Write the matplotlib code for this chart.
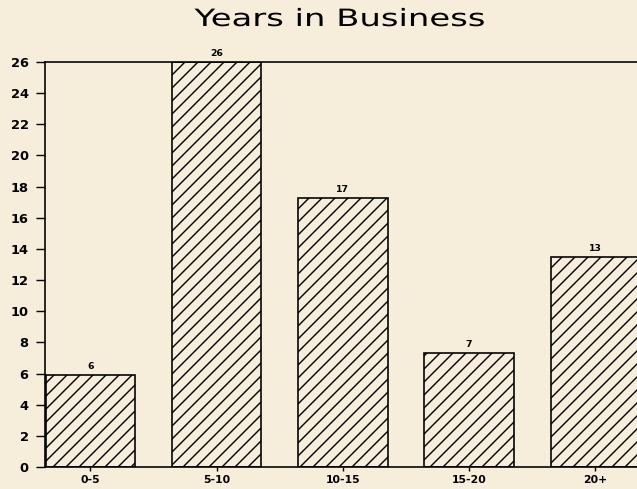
import numpy as np
import matplotlib.pyplot as plt
from matplotlib.patheffects import AbstractPathEffect
from matplotlib.transforms import Affine2D

categories = ['0-5', '5-10', '10-15', '15-20', '20+']
heights = [5.9, 26.0, 17.3, 7.3, 13.5]
value_labels = ['6', '26', '17', '7', '13']
yticks = list(range(0, 27, 2))

paper = '#f6eedb'
dpi = 78


# stretches a text horizontally about a centre x (pixels), to mimic the wide plotter lettering
class Stretch(AbstractPathEffect):
    def __init__(self, sx, cx):
        super().__init__()
        self.sx = sx
        self.cx = cx

    def draw_path(self, renderer, gc, tpath, affine, rgbFace=None):
        t = affine + Affine2D().translate(-self.cx, 0).scale(self.sx, 1).translate(self.cx, 0)
        renderer.draw_path(gc, tpath, t, rgbFace)


fig = plt.figure(figsize=(637 / dpi, 489 / dpi), dpi=dpi, facecolor=paper)
ax = fig.add_axes([45 / 637, 22 / 489, 1 - 45 / 637, 405 / 489])
ax.set_facecolor(paper)

plt.rcParams['hatch.linewidth'] = 1.3
x = np.arange(len(categories))
bars = ax.bar(x, heights, width=0.71, color=paper, edgecolor='black',
              linewidth=1.5, hatch='//')

for xi, h, lab in zip(x, heights, value_labels):
    ax.text(xi, h + 0.25, lab, ha='center', va='bottom', fontsize=8.5,
            fontweight='bold')

ax.set_xlim(-0.36, 4.33)
ax.set_ylim(0, 26)
ax.set_xticks(x)
ax.set_xticklabels(categories, fontsize=10, fontweight='bold')
ax.set_yticks(yticks)
ax.set_yticklabels([str(t) for t in yticks], fontsize=12, fontweight='bold')
ax.tick_params(axis='y', direction='out', length=8, width=1.3, pad=7)
ax.tick_params(axis='x', direction='out', length=4, width=1.3, pad=3)
ax.spines['right'].set_visible(False)
for s in ['left', 'top', 'bottom']:
    ax.spines[s].set_linewidth(1.5)

cx = 340
fig.text(cx / 637, 1 - 19 / 489, 'Years in Business', ha='center',
         va='center', fontsize=22,
         path_effects=[Stretch(1.42, cx)])

fig.savefig('out.png', dpi=dpi, facecolor=paper)
